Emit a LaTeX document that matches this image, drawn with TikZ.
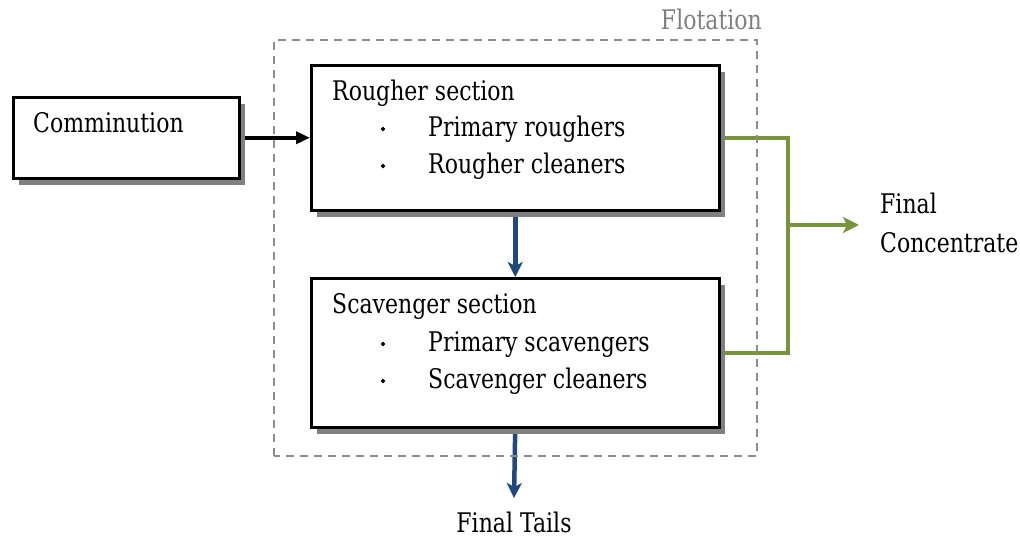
\documentclass[tikz,border=0pt]{standalone}
\usepackage{fontspec}
\setmainfont{DejaVu Serif}[FakeStretch=0.815]
\usetikzlibrary{arrows.meta,shadows,backgrounds}
\definecolor{shadowgray}{HTML}{808080}
\definecolor{frameGray}{HTML}{8C8C8C}
\definecolor{flowBlue}{HTML}{1F497D}
\definecolor{flowGreen}{HTML}{77933C}
\tikzset{
  box/.style={draw=black, line width=2.5pt, fill=white, rectangle, inner sep=0pt,
    anchor=north west,
    drop shadow={shadow xshift=6pt, shadow yshift=-6.5pt, fill=shadowgray, opacity=1}},
  label/.style={font=\fontsize{27}{32}\selectfont, inner sep=0pt, anchor=base west},
  bulletdot/.style={diamond, fill=black, inner sep=0pt, minimum size=5pt},
  feed/.style={line width=3.5pt, black, -{Triangle[length=14pt, width=12pt]}},
  tails/.style={line width=4.5pt, flowBlue, -{Stealth[length=15pt, width=15pt, inset=4pt]}},
  conc/.style={line width=3.8pt, flowGreen},
  frame/.style={draw=frameGray, line width=1.6pt, dash pattern=on 8pt off 6pt},
}
\usetikzlibrary{shapes.geometric}
\begin{document}
\begin{tikzpicture}[x=1pt, y=-1pt]
\useasboundingbox (0,0) rectangle (1020,538);

% flotation circuit frame
\draw[frame] (274,456) -- (274,40) -- (757,40) -- (757,456) -- cycle;
\node[label, anchor=base east, text=shadowgray] (flot) at (762,29) {Flotation};

% process blocks
\node[box, minimum width=226pt, minimum height=81pt] (comm) at (12,96) {};
\node[box, minimum width=408pt, minimum height=145pt] (rough) at (310,64) {};
\node[box, minimum width=408pt, minimum height=149pt] (scav) at (310,277) {};

\node[label] (commT) at (33,132) {Comminution};

\node[label] (roughT) at (332,100) {Rougher section};
\node[bulletdot] (rb1) at (383,129) {};
\node[label] (rough1) at (428,136) {Primary roughers};
\node[bulletdot] (rb2) at (383,166) {};
\node[label] (rough2) at (428,173) {Rougher cleaners};

\node[label] (scavT) at (332,313) {Scavenger section};
\node[bulletdot] (sb1) at (383,344) {};
\node[label] (scav1) at (428,351) {Primary scavengers};
\node[bulletdot] (sb2) at (383,381) {};
\node[label] (scav2) at (428,388) {Scavenger cleaners};

% outputs
\node[label] (concA) at (880,213) {Final};
\node[label] (concB) at (880,252) {Concentrate};
\node[label, anchor=base] (tailsT) at (514,532) {Final Tails};
\coordinate (join) at (788,225);
\coordinate (concIn) at (859,225);
\coordinate (tailsEnd) at (514,498);

% streams, kept behind the blocks and their shadows
\begin{scope}[on background layer]
  \draw[feed] (comm.east) -- (rough.west |- comm.east);
  \draw[tails] (rough.south) -- (scav.north);
  \draw[tails] (scav.south) -- (tailsEnd);
  \draw[conc] (rough.east) -| (join);
  \draw[conc] (scav.east) -| (join);
  \draw[conc, -{Stealth[length=16pt, width=16pt, inset=4pt]}] (join) -- (concIn);
\end{scope}
\end{tikzpicture}
\end{document}
